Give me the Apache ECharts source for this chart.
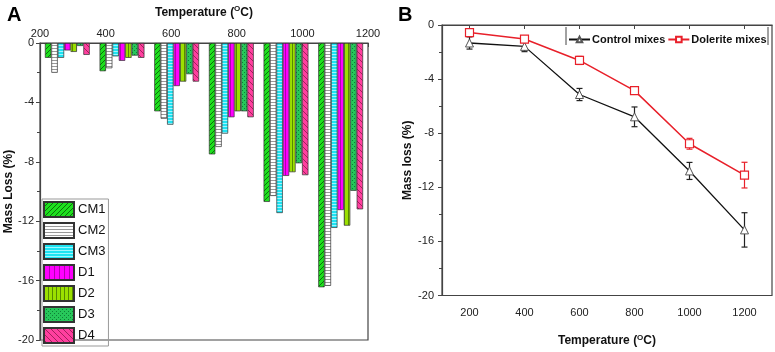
<!DOCTYPE html>
<html>
<head>
<meta charset="utf-8">
<script src="https://cdn.jsdelivr.net/npm/echarts@6/dist/echarts.min.js"></script>
<style>
  html, body { margin: 0; padding: 0; background: #fff; }
  #main { width: 775px; height: 352px; }
</style>
</head>
<body>
<div id="main"></div>
<script>
// panel A: mass loss of each mix per temperature
const temps = ['200', '400', '600', '800', '1000', '1200'];
const cm1 = [-1.0, -1.9, -4.6, -7.5, -10.7, -16.45];
const cm2 = [-2.0, -1.7, -5.1, -7.0, -10.3, -16.35];
const cm3 = [-1.0, -0.9, -5.5, -6.1, -11.45, -12.45];
const d1 = [-0.5, -1.2, -2.9, -5.0, -8.95, -11.25];
const d2 = [-0.6, -1.0, -2.6, -4.6, -8.7, -12.3];
const d3 = [-0.2, -0.85, -2.1, -4.6, -8.1, -9.95];
const d4 = [-0.8, -1.0, -2.6, -5.0, -8.9, -11.2];

// panel B: averages with error bars
const tempB = [200, 400, 600, 800, 1000, 1200];
const controlMean = [-1.33, -1.58, -5.14, -6.79, -10.79, -15.15];
const controlErr = [0.45, 0.39, 0.45, 0.73, 0.63, 1.27];
const doleriteMean = [-0.56, -1.04, -2.62, -4.85, -8.78, -11.1];
const doleriteErr = [0.2, 0.15, 0.3, 0.15, 0.4, 0.95];
const tickB = [200, 400, 600, 800, 1000, 1200];

const FONT = "'Liberation Sans', Arial, sans-serif";

function pattern(bg, fg, size, draw) {
    const c = document.createElement('canvas');
    c.width = size; c.height = size;
    const ctx = c.getContext('2d');
    ctx.fillStyle = bg;
    ctx.fillRect(0, 0, size, size);
    ctx.strokeStyle = fg;
    ctx.fillStyle = fg;
    ctx.lineWidth = 1;
    draw(ctx, size);
    return {image: c, repeat: 'repeat'};
}
const slash = (ctx, s) => {
    ctx.beginPath();
    ctx.moveTo(0, s); ctx.lineTo(s, 0);
    ctx.moveTo(-1, 1); ctx.lineTo(1, -1);
    ctx.moveTo(s - 1, s + 1); ctx.lineTo(s + 1, s - 1);
    ctx.stroke();
};
const backslash = (ctx, s) => {
    ctx.beginPath();
    ctx.moveTo(0, 0); ctx.lineTo(s, s);
    ctx.moveTo(s - 1, -1); ctx.lineTo(s + 1, 1);
    ctx.moveTo(-1, s - 1); ctx.lineTo(1, s + 1);
    ctx.stroke();
};
const horiz = (ctx, s) => { ctx.fillRect(0, 0, s, 1); };
const vert = (ctx, s) => { ctx.fillRect(0, 0, 1, s); };
const dots = (ctx, s) => { ctx.fillRect(0, 0, 1, 1); ctx.fillRect(2, 2, 1, 1); };

const fills = [
    pattern('#1ee01e', '#0b700b', 5, slash),
    pattern('#ffffff', '#999999', 3, horiz),
    pattern('#1ee3f2', '#9ff6ff', 3, horiz),
    pattern('#ff00ff', '#b000b0', 5, vert),
    pattern('#9be000', '#578a00', 4, vert),
    pattern('#27c75a', '#0d7f35', 4, dots),
    pattern('#ff3f9f', '#a3205c', 6, backslash)
];
const barNames = ['CM1', 'CM2', 'CM3', 'D1', 'D2', 'D3', 'D4'];
const barData = [cm1, cm2, cm3, d1, d2, d3, d4];

const barSeries = barNames.map((n, i) => ({
    name: n,
    type: 'bar',
    xAxisIndex: 0,
    yAxisIndex: 0,
    barGap: '0%',
    barCategoryGap: '18%',
    data: barData[i],
    itemStyle: {color: fills[i], borderColor: '#333', borderWidth: 0.7}
}));

function errSeries(name, mean, err, color) {
    return {
        name: name,
        type: 'custom',
        coordinateSystem: 'cartesian2d',
        xAxisIndex: 2,
        yAxisIndex: 1,
        z: 1,
        encode: {x: 0, y: [1, 2]},
        data: tempB.map((t, i) => [t, mean[i] - err[i], mean[i] + err[i]]),
        renderItem: function (params, api) {
            const lo = api.coord([api.value(0), api.value(1)]);
            const hi = api.coord([api.value(0), api.value(2)]);
            const w = 3;
            const st = {stroke: color, lineWidth: 1.2};
            return {
                type: 'group',
                children: [
                    {type: 'line', shape: {x1: lo[0], y1: lo[1], x2: hi[0], y2: hi[1]}, style: st},
                    {type: 'line', shape: {x1: lo[0] - w, y1: lo[1], x2: lo[0] + w, y2: lo[1]}, style: st},
                    {type: 'line', shape: {x1: hi[0] - w, y1: hi[1], x2: hi[0] + w, y2: hi[1]}, style: st}
                ]
            };
        }
    };
}

const axisLine = {show: true, lineStyle: {color: '#444', width: 1.2}};
const tempName = 'Temperature ({sup|O}C)';
const nameStyle = {
    fontFamily: FONT, fontWeight: 'bold', fontSize: 12, color: '#111',
    rich: {sup: {fontFamily: FONT, fontWeight: 'bold', fontSize: 8, color: '#111', padding: [0, 0, 7, 0]}}
};
const labelStyle = {fontFamily: FONT, fontSize: 11, color: '#222', formatter: v => String(v)};

const chart = echarts.init(document.getElementById('main'));
chart.setOption({
    animation: false,
    backgroundColor: '#fff',
    title: [
        {text: 'A', left: 2, top: 0, textStyle: {fontFamily: FONT, fontSize: 20, fontWeight: 'bold', color: '#000'}},
        {text: 'B', left: 393, top: 0, textStyle: {fontFamily: FONT, fontSize: 20, fontWeight: 'bold', color: '#000'}}
    ],
    grid: [
        {left: 40, top: 41, width: 328, height: 299, show: true, borderColor: '#444', borderWidth: 1.2},
        {left: 442, top: 25, width: 330, height: 275, show: true, borderColor: '#444', borderWidth: 1.2}
    ],
    legend: [
        {
            data: barNames,
            orient: 'vertical',
            left: 42, top: 199,
            itemWidth: 30, itemHeight: 15, itemGap: 4,
            icon: 'rect',
            padding: [2, 3, 2, 1],
            borderColor: '#999', borderWidth: 1,
            textStyle: {fontFamily: FONT, fontSize: 13, lineHeight: 15, color: '#111', padding: [0, 0, 0, -1]}
        },
        {
            data: ['Control mixes', 'Dolerite mixes'],
            left: 563, top: 29, width: 240,
            itemWidth: 21, itemHeight: 7, itemGap: 2,
            textStyle: {fontFamily: FONT, fontSize: 11, fontWeight: 'bold', color: '#111', padding: [0, 0, 0, -3]}
        }
    ],
    graphic: [
        {type: 'line', shape: {x1: 566, y1: 27, x2: 566, y2: 45}, style: {stroke: '#444', lineWidth: 1}},
        {type: 'line', shape: {x1: 768, y1: 27, x2: 768, y2: 45}, style: {stroke: '#444', lineWidth: 1}}
    ],
    xAxis: [
        {
            gridIndex: 0, type: 'category', data: temps, position: 'bottom',
            axisLine: axisLine, axisTick: {show: false}, axisLabel: {show: false}
        },
        {
            gridIndex: 0, type: 'value', position: 'top', min: 200, max: 1200, interval: 200,
            axisLine: axisLine, splitLine: {show: false},
            axisTick: {show: true, inside: true, length: 4, lineStyle: {color: '#444'}},
            axisLabel: Object.assign({margin: 4}, labelStyle),
            name: tempName, nameLocation: 'middle', nameGap: 23, nameTextStyle: nameStyle
        },
        {
            gridIndex: 1, type: 'value', min: 100, max: 1300,
            axisLine: axisLine, splitLine: {show: false},
            axisTick: {show: true, length: 4, customValues: tickB, lineStyle: {color: '#444'}},
            axisLabel: Object.assign({margin: 12, customValues: tickB}, labelStyle),
            name: tempName, nameLocation: 'middle', nameGap: 38, nameTextStyle: nameStyle
        }
    ],
    yAxis: [
        {
            gridIndex: 0, type: 'value', min: -20, max: 0, interval: 4,
            axisLine: axisLine, splitLine: {show: false},
            axisTick: {show: true, length: 4, lineStyle: {color: '#444'}},
            minorTick: {show: true, splitNumber: 2, length: 3, lineStyle: {color: '#444'}},
            axisLabel: Object.assign({margin: 6}, labelStyle),
            name: 'Mass Loss (%)', nameLocation: 'middle', nameGap: 23, nameRotate: 90,
            nameTextStyle: {fontFamily: FONT, fontWeight: 'bold', fontSize: 12, color: '#111'}
        },
        {
            gridIndex: 1, type: 'value', min: -20, max: 0, interval: 4,
            axisLine: axisLine, splitLine: {show: false},
            axisTick: {show: true, length: 4, lineStyle: {color: '#444'}},
            minorTick: {show: true, splitNumber: 2, length: 3, lineStyle: {color: '#444'}},
            axisLabel: Object.assign({margin: 8}, labelStyle),
            name: 'Mass loss (%)', nameLocation: 'middle', nameGap: 28, nameRotate: 90,
            nameTextStyle: {fontFamily: FONT, fontWeight: 'bold', fontSize: 12, color: '#111'}
        }
    ],
    series: barSeries.concat([
        errSeries('control error', controlMean, controlErr, '#222'),
        errSeries('dolerite error', doleriteMean, doleriteErr, '#e8202a'),
        {
            name: 'Control mixes', type: 'line', xAxisIndex: 2, yAxisIndex: 1, z: 3,
            data: tempB.map((t, i) => [t, controlMean[i]]),
            symbol: 'triangle', symbolSize: 8,
            lineStyle: {color: '#111', width: 1.3},
            itemStyle: {color: '#fff', borderColor: '#555', borderWidth: 1}
        },
        {
            name: 'Dolerite mixes', type: 'line', xAxisIndex: 2, yAxisIndex: 1, z: 3,
            data: tempB.map((t, i) => [t, doleriteMean[i]]),
            symbol: 'rect', symbolSize: 8,
            lineStyle: {color: '#e8202a', width: 1.5},
            itemStyle: {color: '#fff', borderColor: '#e8202a', borderWidth: 1.2}
        }
    ])
});
</script>
</body>
</html>
